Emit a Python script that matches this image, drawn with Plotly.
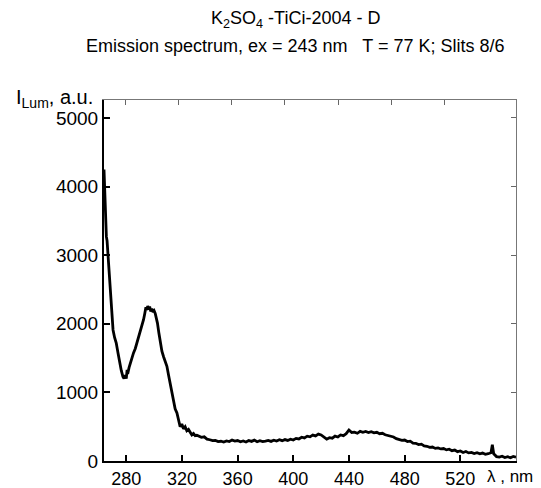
import plotly.graph_objects as go

# K2SO4-TiCi-2004-D emission spectrum
wl_head = [264.0, 264.4, 264.7, 265.2, 265.7, 266.2, 266.6, 267.5, 268.5, 269.5, 270.5,
           271.6, 272.8, 274.0, 275.2, 276.4, 277.6, 278.4, 279.2, 280.0, 280.6, 281.0,
           282.0, 282.9, 284.0, 285.2, 286.5, 287.7, 289.0, 290.0, 291.2, 292.4, 293.3,
           294.1, 294.8, 295.4, 296.0, 296.8, 297.6, 298.4, 299.2, 300.0, 300.8, 301.6,
           302.4, 303.4, 304.4, 305.6, 306.8, 308.0, 309.2, 310.4, 311.5, 312.7, 313.9,
           315.1, 316.4, 317.6, 318.7, 319.9, 321.1, 322.3, 323.5, 324.7, 325.9, 327.1,
           328.3, 329.5, 330.7]
int_head = [4250, 3980, 3650, 3450, 3270, 3210, 3080, 2800, 2490, 2200, 1910,
            1800, 1720, 1580, 1430, 1320, 1230, 1200, 1250, 1200, 1330, 1270,
            1360, 1430, 1500, 1575, 1640, 1720, 1800, 1870, 1960, 2060, 2150,
            2240, 2200, 2260, 2210, 2250, 2180, 2220, 2170, 2190, 2150, 2080,
            2010, 1870, 1720, 1600, 1520, 1440, 1380, 1250, 1140, 1000, 850,
            760, 700, 580, 500, 540, 470, 500, 440, 460, 410, 380,
            400, 370, 375]

wl_tail = [332, 334, 336, 338, 340, 342, 344, 346, 348, 350, 352, 354, 356, 358, 360,
           362, 364, 366, 368, 370, 372, 374, 376, 378, 380, 382, 384, 386, 388, 390,
           392, 394, 396, 398, 400, 402, 404, 406, 408, 410, 412, 414, 416, 418, 420,
           422, 424, 426, 428, 430, 432, 434, 436, 438, 440, 442, 444, 446, 448, 450,
           452, 454, 456, 458, 460, 462, 464, 466, 468, 470, 472, 474, 476, 478, 480,
           482, 484, 486, 488, 490, 492, 494, 496, 498, 500, 502, 504, 506, 508, 510,
           512, 514, 516, 518, 520, 522, 524, 526, 528, 530, 532, 534, 536, 538, 540,
           542, 543, 544, 546, 548, 550, 552, 554, 556, 558, 560]
int_tail = [360, 345, 352, 318, 310, 296, 300, 282, 288, 276, 292, 284, 306, 290, 298,
            280, 292, 276, 300, 286, 304, 280, 296, 282, 290, 300, 286, 304, 292, 310,
            296, 312, 300, 318, 306, 330, 322, 346, 336, 362, 352, 378, 366, 392, 380,
            350, 318, 340, 332, 362, 350, 380, 370, 398, 452, 416, 420, 404, 432, 418,
            430, 414, 428, 410, 418, 398, 404, 382, 372, 360, 350, 326, 318, 300, 306,
            284, 290, 262, 258, 240, 246, 220, 214, 198, 204, 184, 192, 176, 182, 162,
            172, 150, 160, 136, 146, 124, 138, 118, 126, 108, 120, 104, 116, 98, 106,
            120, 236, 104, 64, 58, 70, 50, 62, 48, 66, 56]

wavelength = wl_head + wl_tail
intensity = int_head + int_tail

x_ticks = [280, 320, 360, 400, 440, 480, 520]
y_ticks = [0, 1000, 2000, 3000, 4000, 5000]

FONT = "Liberation Sans, Arial, sans-serif"

fig = go.Figure()
fig.add_trace(go.Scatter(
    x=wavelength, y=intensity, mode='lines',
    line=dict(color='black', width=2.8),
    showlegend=False, hoverinfo='skip'
))
# dummy trace so the top / right frame axes are drawn
fig.add_trace(go.Scatter(x=[300], y=[-1000], xaxis='x2', yaxis='y2',
                         mode='markers', marker=dict(opacity=0),
                         showlegend=False, hoverinfo='skip'))

# page body has an 8px margin, so the figure is 8px smaller than the window
fig.update_layout(
    width=533, height=480,
    margin=dict(l=96, r=25, t=92, b=27),
    paper_bgcolor='white', plot_bgcolor='white',
    font=dict(family=FONT, color='black'),
    xaxis=dict(
        range=[264, 560], tickvals=x_ticks, ticks='inside', ticklen=6,
        tickwidth=1.5, tickcolor='black', showline=True, linecolor='black',
        linewidth=2, showgrid=False, zeroline=False, automargin=False,
        tickfont=dict(size=18, family=FONT), ticklabelstandoff=0
    ),
    yaxis=dict(
        range=[0, 5262], tickvals=y_ticks, ticks='inside', ticklen=6,
        tickwidth=1.5, tickcolor='black', showline=True, linecolor='black',
        linewidth=2, showgrid=False, zeroline=False, automargin=False,
        tickfont=dict(size=19, family=FONT)
    ),
    xaxis2=dict(
        overlaying='x', side='top', range=[264.2, 573.4], tickvals=x_ticks,
        ticks='inside', ticklen=5, tickwidth=1, tickcolor='#666',
        showticklabels=False, showline=True, linecolor='#777', linewidth=1,
        showgrid=False, zeroline=False, automargin=False
    ),
    yaxis2=dict(
        overlaying='y', side='right', range=[0, 5262], tickvals=y_ticks,
        ticks='inside', ticklen=5, tickwidth=1, tickcolor='#666',
        showticklabels=False, showline=True, linecolor='#777', linewidth=1,
        showgrid=False, zeroline=False, automargin=False
    ),
)

fig.add_annotation(
    text='K<sub>2</sub>SO<sub>4</sub> -TiCi-2004 - D',
    xref='paper', yref='paper', x=0.466, y=1.222, showarrow=False,
    xanchor='center', yanchor='middle', font=dict(size=18, family=FONT)
)
fig.add_annotation(
    text='Emission spectrum, ex = 243 nm   T = 77 K; Slits 8/6',
    xref='paper', yref='paper', x=0.466, y=1.150, showarrow=False,
    xanchor='center', yanchor='middle', font=dict(size=18, family=FONT)
)
fig.add_annotation(
    text='I<sub>Lum</sub>, a.u.',
    xref='paper', yref='paper', x=-0.022, y=1.005, showarrow=False,
    xanchor='right', yanchor='middle', font=dict(size=20, family=FONT)
)
fig.add_annotation(
    text='λ , nm',
    xref='paper', yref='paper', x=0.925, y=-0.044, showarrow=False,
    xanchor='left', yanchor='middle', font=dict(size=17, family=FONT)
)

fig.write_html("out.html")
